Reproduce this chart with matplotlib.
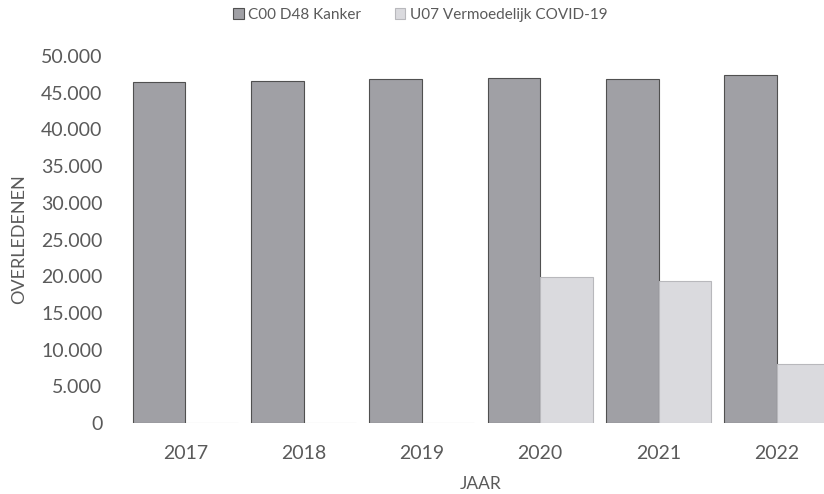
import matplotlib
matplotlib.use("Agg")
import matplotlib.pyplot as plt
import numpy as np
from matplotlib.ticker import FuncFormatter

# jaren en aantallen overledenen
jaren = ["2017", "2018", "2019", "2020", "2021", "2022"]
kanker = [46500, 46600, 46900, 47000, 46900, 47400]
covid = [0, 0, 0, 19900, 19400, 8100]

reeks_namen = ["C00 D48 Kanker", "U07 Vermoedelijk COVID-19"]

plt.rcParams["font.family"] = ["Lato", "DejaVu Sans"]
tekst_kleur = "#5a5a5a"

fig = plt.figure(figsize=(8.24, 4.94), dpi=100)
ax = fig.add_axes([0.153, 0.1437, 0.8617, 0.7429])

x = np.arange(len(jaren))
breedte = 0.444
ax.bar(x - breedte / 2, kanker, breedte, color="#a0a0a5", edgecolor="#505050",
       linewidth=0.8, label=reeks_namen[0])
ax.bar(x + breedte / 2, covid, breedte, color="#dadade", edgecolor="#b8b8bc",
       linewidth=0.8, label=reeks_namen[1])

ax.set_xlim(-0.5, len(jaren) - 0.5)
ax.set_ylim(0, 50000)
ax.set_yticks(np.arange(0, 50001, 5000))
ax.yaxis.set_major_formatter(FuncFormatter(lambda v, p: f"{int(v):,}".replace(",", ".")))
ax.set_xticks(x)
ax.set_xticklabels(jaren)

for s in ax.spines.values():
    s.set_visible(False)
ax.tick_params(axis="both", length=0, colors=tekst_kleur, labelsize=14)
ax.tick_params(axis="y", pad=17)
ax.tick_params(axis="x", pad=16)

ax.set_xlabel("JAAR", fontsize=12.5, color=tekst_kleur, labelpad=10)
ax.set_ylabel("OVERLEDENEN", fontsize=13, color=tekst_kleur, labelpad=10)

fig.legend(loc="center", bbox_to_anchor=(0.51, 0.97), ncol=2, frameon=False,
           fontsize=11, labelcolor=tekst_kleur, handlelength=0.7, handleheight=0.7,
           handletextpad=0.3, columnspacing=2.2)

fig.savefig("out.png", dpi=100)
